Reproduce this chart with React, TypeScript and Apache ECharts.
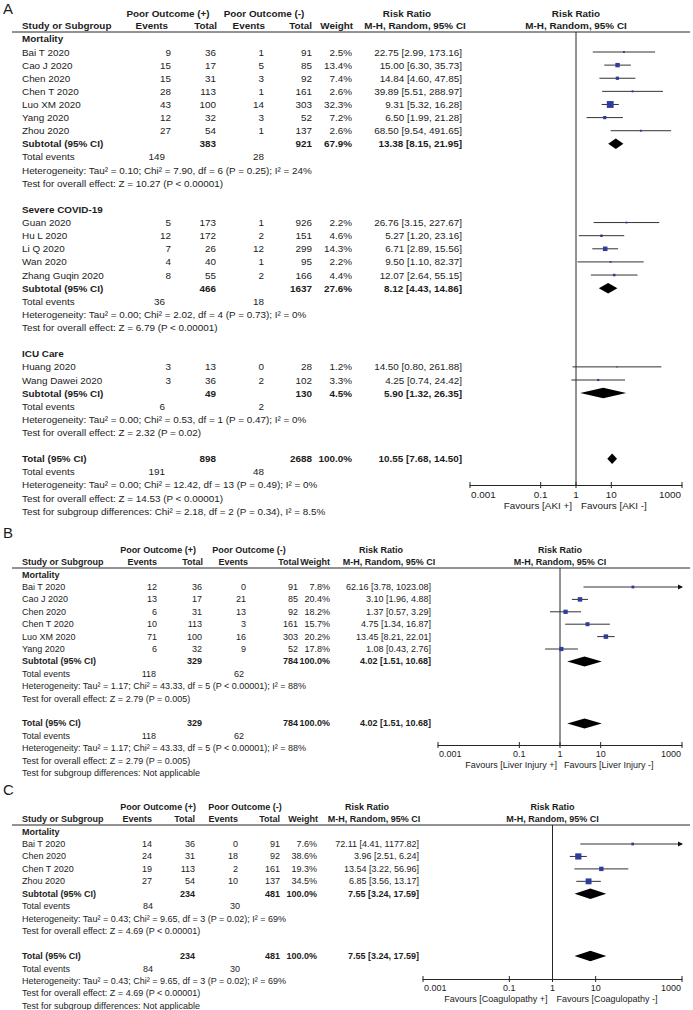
import React, { useEffect, useRef } from "react";
import * as echarts from "echarts";

// ---------------- shared axis values ----------------
const xMin = 0.001;
const xMax = 1000;
const tickValues = [0.001, 0.1, 1, 10, 1000];
const nullValue = 1;

// Row tuple: [events+, total+, events-, total-, weight %, RR, lower, upper]
// Subtotal tuple: [total+, total-, weight %, RR, lower, upper]

// ---------------- Panel A (AKI) ----------------
const aMortalityStudies = ["Bai T 2020", "Cao J 2020", "Chen 2020", "Chen T 2020", "Luo XM 2020", "Yang 2020", "Zhou 2020"];
const aMortalityRows = [
  [9, 36, 1, 91, 2.5, 22.75, 2.99, 173.16],
  [15, 17, 5, 85, 13.4, 15.0, 6.3, 35.73],
  [15, 31, 3, 92, 7.4, 14.84, 4.6, 47.85],
  [28, 113, 1, 161, 2.6, 39.89, 5.51, 288.97],
  [43, 100, 14, 303, 32.3, 9.31, 5.32, 16.28],
  [12, 32, 3, 52, 7.2, 6.5, 1.99, 21.28],
  [27, 54, 1, 137, 2.6, 68.5, 9.54, 491.65],
];
const aMortalitySubtotal = [383, 921, 67.9, 13.38, 8.15, 21.95];
const aMortalityEvents = [149, 28];
const aMortalityHet = "Heterogeneity: Tau² = 0.10; Chi² = 7.90, df = 6 (P = 0.25); I² = 24%";
const aMortalityEffect = "Test for overall effect: Z = 10.27 (P < 0.00001)";

const aSevereStudies = ["Guan 2020", "Hu L 2020", "Li Q 2020", "Wan 2020", "Zhang Guqin 2020"];
const aSevereRows = [
  [5, 173, 1, 926, 2.2, 26.76, 3.15, 227.67],
  [12, 172, 2, 151, 4.6, 5.27, 1.2, 23.16],
  [7, 26, 12, 299, 14.3, 6.71, 2.89, 15.56],
  [4, 40, 1, 95, 2.2, 9.5, 1.1, 82.37],
  [8, 55, 2, 166, 4.4, 12.07, 2.64, 55.15],
];
const aSevereSubtotal = [466, 1637, 27.6, 8.12, 4.43, 14.86];
const aSevereEvents = [36, 18];
const aSevereHet = "Heterogeneity: Tau² = 0.00; Chi² = 2.02, df = 4 (P = 0.73); I² = 0%";
const aSevereEffect = "Test for overall effect: Z = 6.79 (P < 0.00001)";

const aIcuStudies = ["Huang 2020", "Wang Dawei 2020"];
const aIcuRows = [
  [3, 13, 0, 28, 1.2, 14.5, 0.8, 261.88],
  [3, 36, 2, 102, 3.3, 4.25, 0.74, 24.42],
];
const aIcuSubtotal = [49, 130, 4.5, 5.9, 1.32, 26.35];
const aIcuEvents = [6, 2];
const aIcuHet = "Heterogeneity: Tau² = 0.00; Chi² = 0.53, df = 1 (P = 0.47); I² = 0%";
const aIcuEffect = "Test for overall effect: Z = 2.32 (P = 0.02)";

const aTotal = [898, 2688, 100.0, 10.55, 7.68, 14.5];
const aTotalEvents = [191, 48];
const aTotalHet = "Heterogeneity: Tau² = 0.00; Chi² = 12.42, df = 13 (P = 0.49); I² = 0%";
const aTotalEffect = "Test for overall effect: Z = 14.53 (P < 0.00001)";
const aSubgroupTest = "Test for subgroup differences: Chi² = 2.18, df = 2 (P = 0.34), I² = 8.5%";
const aFavours = ["Favours [AKI +]", "Favours [AKI -]"];

// ---------------- Panel B (Liver injury) ----------------
const bMortalityStudies = ["Bai T 2020", "Cao J 2020", "Chen 2020", "Chen T 2020", "Luo XM 2020", "Yang 2020"];
const bMortalityRows = [
  [12, 36, 0, 91, 7.8, 62.16, 3.78, 1023.08],
  [13, 17, 21, 85, 20.4, 3.1, 1.96, 4.88],
  [6, 31, 13, 92, 18.2, 1.37, 0.57, 3.29],
  [10, 113, 3, 161, 15.7, 4.75, 1.34, 16.87],
  [71, 100, 16, 303, 20.2, 13.45, 8.21, 22.01],
  [6, 32, 9, 52, 17.8, 1.08, 0.43, 2.76],
];
const bMortalitySubtotal = [329, 784, 100.0, 4.02, 1.51, 10.68];
const bMortalityEvents = [118, 62];
const bMortalityHet = "Heterogeneity: Tau² = 1.17; Chi² = 43.33, df = 5 (P < 0.00001); I² = 88%";
const bMortalityEffect = "Test for overall effect: Z = 2.79 (P = 0.005)";
const bTotal = [329, 784, 100.0, 4.02, 1.51, 10.68];
const bTotalEvents = [118, 62];
const bTotalHet = "Heterogeneity: Tau² = 1.17; Chi² = 43.33, df = 5 (P < 0.00001); I² = 88%";
const bTotalEffect = "Test for overall effect: Z = 2.79 (P = 0.005)";
const bSubgroupTest = "Test for subgroup differences: Not applicable";
const bFavours = ["Favours [Liver Injury +]", "Favours [Liver Injury -]"];

// ---------------- Panel C (Coagulopathy) ----------------
const cMortalityStudies = ["Bai T 2020", "Chen 2020", "Chen T 2020", "Zhou 2020"];
const cMortalityRows = [
  [14, 36, 0, 91, 7.6, 72.11, 4.41, 1177.82],
  [24, 31, 18, 92, 38.6, 3.96, 2.51, 6.24],
  [19, 113, 2, 161, 19.3, 13.54, 3.22, 56.96],
  [27, 54, 10, 137, 34.5, 6.85, 3.56, 13.17],
];
const cMortalitySubtotal = [234, 481, 100.0, 7.55, 3.24, 17.59];
const cMortalityEvents = [84, 30];
const cMortalityHet = "Heterogeneity: Tau² = 0.43; Chi² = 9.65, df = 3 (P = 0.02); I² = 69%";
const cMortalityEffect = "Test for overall effect: Z = 4.69 (P < 0.00001)";
const cTotal = [234, 481, 100.0, 7.55, 3.24, 17.59];
const cTotalEvents = [84, 30];
const cTotalHet = "Heterogeneity: Tau² = 0.43; Chi² = 9.65, df = 3 (P = 0.02); I² = 69%";
const cTotalEffect = "Test for overall effect: Z = 4.69 (P < 0.00001)";
const cSubgroupTest = "Test for subgroup differences: Not applicable";
const cFavours = ["Favours [Coagulopathy +]", "Favours [Coagulopathy -]"];

// ---------------- styling / layout ----------------
const FONT = "'Liberation Sans', Arial, Helvetica, sans-serif";
const TXT = "#1c1c1c";
const LINE = "#262626";
const BLUE = "#2e3c9c";

const layoutA = {
  font: 9.9, step: 13.12, row0: 52, letterY: 8, h1: 13, h2: 25.5, lineY: 32, lineX0: 12, lineX1: 690,
  label: 22, evP: 171, totP: 216, evN: 264, totN: 312, w: 352, rr: 462, tevP: 165, tevN: 264,
  hPoP: 168, hPoN: 264, hRR: 407, hMH: 415, hEvP: 168, hTotP: 217, hEvN: 265, hTotN: 312, hW: 353,
  plotX0: 470, plotX1: 682, axisY: 485, favGapL: 4, favGapR: 5, sq: 1.2, dia: 10.5,
};
const layoutB = {
  font: 9.0, step: 12.4, row0: 587, letterY: 532, h1: 550, h2: 562, lineY: 568, lineX0: 12, lineX1: 690,
  label: 22, evP: 157, totP: 202, evN: 246, totN: 298, w: 330, rr: 431, tevP: 156, tevN: 244,
  hPoP: 158, hPoN: 249, hRR: 381, hMH: 389, hEvP: 157, hTotP: 203, hEvN: 248, hTotN: 299, hW: 330,
  plotX0: 438, plotX1: 682, axisY: 745, favGapL: 3, favGapR: 4, sq: 1.0, dia: 10,
};
const layoutC = {
  font: 9.0, step: 12.45, row0: 844, letterY: 789, h1: 807, h2: 819, lineY: 825, lineX0: 12, lineX1: 690,
  label: 22, evP: 152, totP: 195, evN: 238, totN: 280, w: 317, rr: 419, tevP: 153, tevN: 240,
  hPoP: 158, hPoN: 245, hRR: 367, hMH: 374, hEvP: 152, hTotP: 195, hEvN: 238, hTotN: 280, hW: 318,
  plotX0: 423, plotX1: 682, axisY: 979, favGapL: 5, favGapR: 4, sq: 1.0, dia: 10.5,
};

const panels = [
  {
    letter: "A",
    layout: layoutA,
    favours: aFavours,
    subgroups: [
      { title: "Mortality", studies: aMortalityStudies, rows: aMortalityRows, subtotal: aMortalitySubtotal, events: aMortalityEvents, het: aMortalityHet, effect: aMortalityEffect },
      { title: "Severe COVID-19", studies: aSevereStudies, rows: aSevereRows, subtotal: aSevereSubtotal, events: aSevereEvents, het: aSevereHet, effect: aSevereEffect },
      { title: "ICU Care", studies: aIcuStudies, rows: aIcuRows, subtotal: aIcuSubtotal, events: aIcuEvents, het: aIcuHet, effect: aIcuEffect },
    ],
    overall: { totals: aTotal, events: aTotalEvents, het: aTotalHet, effect: aTotalEffect, subgroupTest: aSubgroupTest },
  },
  {
    letter: "B",
    layout: layoutB,
    favours: bFavours,
    subgroups: [
      { title: "Mortality", studies: bMortalityStudies, rows: bMortalityRows, subtotal: bMortalitySubtotal, events: bMortalityEvents, het: bMortalityHet, effect: bMortalityEffect },
    ],
    overall: { totals: bTotal, events: bTotalEvents, het: bTotalHet, effect: bTotalEffect, subgroupTest: bSubgroupTest },
  },
  {
    letter: "C",
    layout: layoutC,
    favours: cFavours,
    subgroups: [
      { title: "Mortality", studies: cMortalityStudies, rows: cMortalityRows, subtotal: cMortalitySubtotal, events: cMortalityEvents, het: cMortalityHet, effect: cMortalityEffect },
    ],
    overall: { totals: cTotal, events: cTotalEvents, het: cTotalHet, effect: cTotalEffect, subgroupTest: cSubgroupTest },
  },
];

const fmtW = (w: number) => w.toFixed(1) + "%";
const fmtRR = (rr: number, lo: number, hi: number) => `${rr.toFixed(2)} [${lo.toFixed(2)}, ${hi.toFixed(2)}]`;

function layoutRows(p: any) {
  const textRows: any[] = [];
  const studyPts: number[][] = [];
  const diamonds: number[][] = [];
  let r = -1;
  for (const sg of p.subgroups) {
    textRows.push({ row: r, kind: "title", label: sg.title });
    sg.studies.forEach((name: string, k: number) => {
      const v = sg.rows[k];
      textRows.push({ row: r + 1 + k, kind: "study", label: name, v });
      studyPts.push([v[5], r + 1 + k, v[6], v[7], v[4]]);
    });
    const n = sg.studies.length;
    textRows.push({ row: r + n + 1, kind: "sum", label: "Subtotal (95% CI)", v: sg.subtotal });
    diamonds.push([sg.subtotal[3], r + n + 1, sg.subtotal[4], sg.subtotal[5]]);
    textRows.push({ row: r + n + 2, kind: "events", v: sg.events });
    textRows.push({ row: r + n + 3, kind: "note", label: sg.het });
    textRows.push({ row: r + n + 4, kind: "note", label: sg.effect });
    r = r + n + 6;
  }
  const o = p.overall;
  textRows.push({ row: r, kind: "sum", label: "Total (95% CI)", v: o.totals });
  diamonds.push([o.totals[3], r, o.totals[4], o.totals[5]]);
  textRows.push({ row: r + 1, kind: "events", v: o.events });
  textRows.push({ row: r + 2, kind: "note", label: o.het });
  textRows.push({ row: r + 3, kind: "note", label: o.effect });
  textRows.push({ row: r + 4, kind: "note", label: o.subgroupTest });
  return { textRows, studyPts, diamonds };
}

function textStyle(text: string, align: string, size: number, bold: boolean) {
  return {
    text,
    align,
    verticalAlign: "middle",
    textAlign: align,
    textVerticalAlign: "middle",
    fontSize: size,
    fontFamily: FONT,
    fontWeight: bold ? "bold" : "normal",
    fill: TXT,
  };
}

function buildOption() {
  const grid: any[] = [];
  const xAxis: any[] = [];
  const yAxis: any[] = [];
  const series: any[] = [];
  const elements: any[] = [];

  panels.forEach((p, idx) => {
    const L: any = p.layout;
    const { textRows, studyPts, diamonds } = layoutRows(p);
    const rowY = (i: number) => L.row0 + L.step * i;
    const txt = (s: string, x: number, y: number, align: string, bold = false) =>
      elements.push({ type: "text", silent: true, x, y, style: textStyle(s, align, L.font, bold) });

    // panel letter
    elements.push({ type: "text", silent: true, x: 3, y: L.letterY, style: textStyle(p.letter, "left", 15, false) });

    // headers
    const plotCenter = (L.plotX0 + L.plotX1) / 2;
    txt("Poor Outcome (+)", L.hPoP, L.h1, "center", true);
    txt("Poor Outcome (-)", L.hPoN, L.h1, "center", true);
    txt("Risk Ratio", L.hRR, L.h1, "center", true);
    txt("Risk Ratio", plotCenter, L.h1, "center", true);
    txt("Study or Subgroup", L.label, L.h2, "left", true);
    txt("Events", L.hEvP, L.h2, "right", true);
    txt("Total", L.hTotP, L.h2, "right", true);
    txt("Events", L.hEvN, L.h2, "right", true);
    txt("Total", L.hTotN, L.h2, "right", true);
    txt("Weight", L.hW, L.h2, "right", true);
    txt("M-H, Random, 95% CI", L.hMH, L.h2, "center", true);
    txt("M-H, Random, 95% CI", plotCenter, L.h2, "center", true);
    elements.push({
      type: "line", silent: true,
      shape: { x1: L.lineX0, y1: L.lineY, x2: L.lineX1, y2: L.lineY },
      style: { stroke: LINE, lineWidth: 1 },
    });

    // table rows
    for (const t of textRows) {
      const y = rowY(t.row);
      if (t.kind === "title") {
        txt(t.label, L.label, y, "left", true);
      } else if (t.kind === "study") {
        const v = t.v;
        txt(t.label, L.label, y, "left");
        txt(String(v[0]), L.evP, y, "right");
        txt(String(v[1]), L.totP, y, "right");
        txt(String(v[2]), L.evN, y, "right");
        txt(String(v[3]), L.totN, y, "right");
        txt(fmtW(v[4]), L.w, y, "right");
        txt(fmtRR(v[5], v[6], v[7]), L.rr, y, "right");
      } else if (t.kind === "sum") {
        const v = t.v;
        txt(t.label, L.label, y, "left", true);
        txt(String(v[0]), L.totP, y, "right", true);
        txt(String(v[1]), L.totN, y, "right", true);
        txt(fmtW(v[2]), L.w, y, "right", true);
        txt(fmtRR(v[3], v[4], v[5]), L.rr, y, "right", true);
      } else if (t.kind === "events") {
        txt("Total events", L.label, y, "left");
        txt(String(t.v[0]), L.tevP, y, "right");
        txt(String(t.v[1]), L.tevN, y, "right");
      } else {
        txt(t.label, L.label, y, "left");
      }
    }

    // coordinate system
    grid.push({
      left: L.plotX0, top: L.lineY, width: L.plotX1 - L.plotX0, height: L.axisY - L.lineY,
      containLabel: false, outerBoundsMode: "none",
    });
    xAxis.push({
      type: "log", logBase: 10, gridIndex: idx, min: xMin, max: xMax, position: "bottom",
      axisLine: { show: true, onZero: false, lineStyle: { color: LINE, width: 1 } },
      axisTick: { show: false }, axisLabel: { show: false }, splitLine: { show: false },
      minorTick: { show: false }, minorSplitLine: { show: false },
    });
    yAxis.push({
      type: "value", gridIndex: idx, inverse: true, show: false,
      min: (L.lineY - L.row0) / L.step, max: (L.axisY - L.row0) / L.step,
      splitLine: { show: false },
    });

    // null line + favours labels
    series.push({
      type: "custom", xAxisIndex: idx, yAxisIndex: idx, clip: false, silent: true,
      encode: { x: 0, y: 1 },
      data: [[nullValue, 0]],
      renderItem: (params: any, api: any) => {
        const cs = params.coordSys;
        const x = api.coord([api.value(0), api.value(1)])[0];
        const bottom = cs.y + cs.height;
        return {
          type: "group",
          children: [
            { type: "line", shape: { x1: x, y1: cs.y, x2: x, y2: bottom }, style: { stroke: LINE, lineWidth: 1 } },
            { type: "text", x: x - L.favGapL, y: bottom + 20, style: textStyle(p.favours[0], "right", L.font, false) },
            { type: "text", x: x + L.favGapR, y: bottom + 20, style: textStyle(p.favours[1], "left", L.font, false) },
          ],
        };
      },
    });

    // ticks and tick labels
    series.push({
      type: "custom", xAxisIndex: idx, yAxisIndex: idx, clip: false, silent: true,
      encode: { x: 0, y: 1 },
      data: tickValues.map((v) => [v, 0]),
      renderItem: (params: any, api: any) => {
        const cs = params.coordSys;
        const v = api.value(0);
        const x = api.coord([v, api.value(1)])[0];
        const bottom = cs.y + cs.height;
        const last = params.dataIndex === tickValues.length - 1;
        const first = params.dataIndex === 0;
        const align = first ? "left" : last ? "right" : "center";
        const lx = first ? x + 1 : last ? x - 1 : x;
        return {
          type: "group",
          children: [
            { type: "line", shape: { x1: x, y1: bottom - 3, x2: x, y2: bottom + 3 }, style: { stroke: LINE, lineWidth: 1 } },
            { type: "text", x: lx, y: bottom + 9, style: textStyle(String(tickValues[params.dataIndex]), align, L.font, false) },
          ],
        };
      },
    });

    // study estimates
    series.push({
      type: "custom", xAxisIndex: idx, yAxisIndex: idx, clip: false, silent: true,
      encode: { x: 0, y: 1 },
      data: studyPts,
      renderItem: (params: any, api: any) => {
        const rr = api.value(0), row = api.value(1), lo = api.value(2), hi = api.value(3), w = api.value(4);
        const pLo = api.coord([Math.max(lo, xMin), row]);
        const pHi = api.coord([Math.min(hi, xMax), row]);
        const pC = api.coord([rr, row]);
        const s = L.sq * Math.sqrt(w);
        const children: any[] = [
          { type: "line", shape: { x1: pLo[0], y1: pLo[1], x2: pHi[0], y2: pHi[1] }, style: { stroke: "#333", lineWidth: 1 } },
          { type: "rect", shape: { x: pC[0] - s / 2, y: pC[1] - s / 2, width: s, height: s }, style: { fill: BLUE } },
        ];
        if (hi > xMax) {
          children.push({
            type: "polygon",
            shape: { points: [[pHi[0] + 1, pHi[1]], [pHi[0] - 4, pHi[1] - 2.5], [pHi[0] - 4, pHi[1] + 2.5]] },
            style: { fill: "#111" },
          });
        }
        return { type: "group", children };
      },
    });

    // pooled diamonds
    series.push({
      type: "custom", xAxisIndex: idx, yAxisIndex: idx, clip: false, silent: true,
      encode: { x: 0, y: 1 },
      data: diamonds,
      renderItem: (params: any, api: any) => {
        const row = api.value(1);
        const c = api.coord([api.value(0), row]);
        const l = api.coord([api.value(2), row]);
        const h = api.coord([api.value(3), row]);
        const hh = L.dia / 2;
        return {
          type: "polygon",
          shape: { points: [[l[0], c[1]], [c[0], c[1] - hh], [h[0], c[1]], [c[0], c[1] + hh]] },
          style: { fill: "#000" },
        };
      },
    });
  });

  return {
    animation: false,
    backgroundColor: "#ffffff",
    grid,
    xAxis,
    yAxis,
    series,
    graphic: { elements },
  };
}

export default function App() {
  const ref = useRef<HTMLDivElement>(null);
  useEffect(() => {
    document.body.style.margin = "0";
    const chart = echarts.init(ref.current as HTMLDivElement, null, { renderer: "svg" });
    chart.setOption(buildOption() as any);
    return () => chart.dispose();
  }, []);
  return (
    <div
      ref={ref}
      style={{ position: "absolute", left: 0, top: 0, width: 693, height: 1010, background: "#fff" }}
    />
  );
}
